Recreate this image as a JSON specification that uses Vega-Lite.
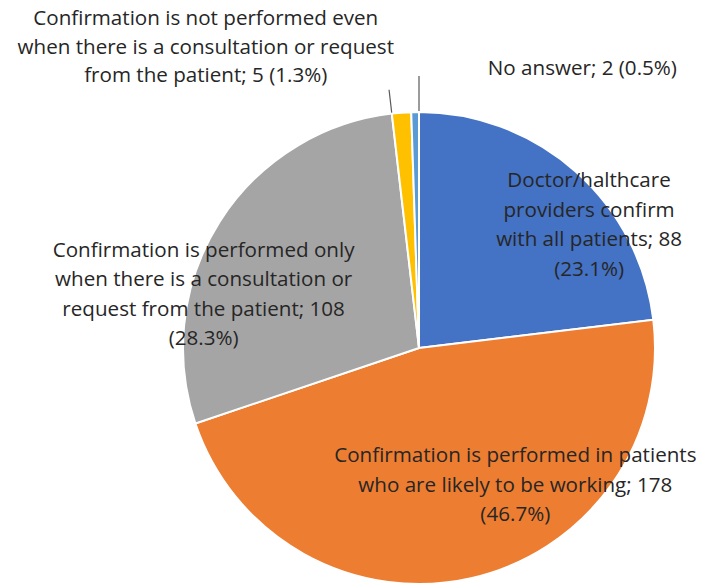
{
  "$schema": "https://vega.github.io/schema/vega-lite/v6.json",
  "width": 590,
  "height": 474,
  "autosize": {"type": "none"},
  "padding": {"left": 124, "top": 111, "right": 0, "bottom": 0},
  "background": "white",
  "config": {"view": {"stroke": null}},
  "data": {
    "values": [
      {"idx": 1, "category": "Doctor/healthcare providers confirm with all patients", "count": 88, "label": "Doctor/halthcare\nproviders confirm\nwith all patients; 88\n(23.1%)"},
      {"idx": 2, "category": "Confirmation is performed in patients who are likely to be working", "count": 178, "label": "Confirmation is performed in patients\nwho are likely to be working; 178\n(46.7%)"},
      {"idx": 3, "category": "Confirmation is performed only when there is a consultation or request from the patient", "count": 108, "label": "Confirmation is performed only\nwhen there is a consultation or\nrequest from the patient; 108\n(28.3%)"},
      {"idx": 4, "category": "Confirmation is not performed even when there is a consultation or request from the patient", "count": 5, "label": "Confirmation is not performed even\nwhen there is a consultation or request\nfrom the patient; 5 (1.3%)"},
      {"idx": 5, "category": "No answer", "count": 2, "label": "No answer; 2 (0.5%)"}
    ]
  },
  "encoding": {
    "theta": {"field": "count", "type": "quantitative", "stack": true},
    "order": {"field": "idx", "type": "quantitative", "sort": "ascending"}
  },
  "layer": [
    {
      "mark": {"type": "arc", "radius": 236, "stroke": "white", "strokeWidth": 2},
      "encoding": {
        "color": {
          "field": "category",
          "type": "nominal",
          "legend": null,
          "scale": {
            "domain": [
              "Doctor/healthcare providers confirm with all patients",
              "Confirmation is performed in patients who are likely to be working",
              "Confirmation is performed only when there is a consultation or request from the patient",
              "Confirmation is not performed even when there is a consultation or request from the patient",
              "No answer"
            ],
            "range": ["#4472C4", "#ED7D31", "#A5A5A5", "#FFC000", "#5B9BD5"]
          }
        }
      }
    },
    {
      "transform": [
        {"stack": "count", "groupby": [], "sort": [{"field": "idx", "order": "ascending"}], "as": ["s0", "s1"]},
        {"filter": "datum.idx == 4"}
      ],
      "mark": {"type": "arc", "radius": 260, "radius2": 237, "stroke": "#595959", "strokeWidth": 1.2, "fill": "#595959"},
      "encoding": {
        "theta": {"field": "s0", "type": "quantitative"},
        "theta2": {"field": "s0"}
      }
    },
    {
      "transform": [
        {"stack": "count", "groupby": [], "sort": [{"field": "idx", "order": "ascending"}], "as": ["s0", "s1"]},
        {"filter": "datum.idx == 5"}
      ],
      "mark": {"type": "arc", "radius": 272, "radius2": 237, "stroke": "#595959", "strokeWidth": 1.2, "fill": "#595959"},
      "encoding": {
        "theta": {"field": "s1", "type": "quantitative"},
        "theta2": {"field": "s1"}
      }
    },
    {
      "mark": {"type": "text", "radius": 190, "dx": 44, "dy": -24.5, "align": "center", "baseline": "middle", "lineBreak": "\n", "lineHeight": 29.5, "fontSize": 20.6, "font": "Open Sans", "color": "#262626"},
      "encoding": {
        "detail": {"field": "category", "type": "nominal"},
        "text": {"condition": {"test": "datum.idx == 1", "field": "label"}, "value": ""}
      }
    },
    {
      "mark": {"type": "text", "radius": 160, "dx": 61, "dy": -48, "align": "center", "baseline": "middle", "lineBreak": "\n", "lineHeight": 29.5, "fontSize": 20.6, "font": "Open Sans", "color": "#262626"},
      "encoding": {
        "detail": {"field": "category", "type": "nominal"},
        "text": {"condition": {"test": "datum.idx == 2", "field": "label"}, "value": ""}
      }
    },
    {
      "mark": {"type": "text", "radius": 210, "dx": -38, "dy": 15.5, "align": "center", "baseline": "middle", "lineBreak": "\n", "lineHeight": 29.3, "fontSize": 20.6, "font": "Open Sans", "color": "#262626"},
      "encoding": {
        "detail": {"field": "category", "type": "nominal"},
        "text": {"condition": {"test": "datum.idx == 3", "field": "label"}, "value": ""}
      }
    },
    {
      "mark": {"type": "text", "radius": 300, "dx": -191, "dy": -29.5, "align": "center", "baseline": "middle", "lineBreak": "\n", "lineHeight": 28.5, "fontSize": 20.6, "font": "Open Sans", "color": "#262626"},
      "encoding": {
        "detail": {"field": "category", "type": "nominal"},
        "text": {"condition": {"test": "datum.idx == 4", "field": "label"}, "value": ""}
      }
    },
    {
      "mark": {"type": "text", "radius": 280, "dx": 168, "dy": 1, "align": "center", "baseline": "middle", "lineBreak": "\n", "lineHeight": 29, "fontSize": 20.6, "font": "Open Sans", "color": "#262626"},
      "encoding": {
        "detail": {"field": "category", "type": "nominal"},
        "text": {"condition": {"test": "datum.idx == 5", "field": "label"}, "value": ""}
      }
    }
  ]
}
